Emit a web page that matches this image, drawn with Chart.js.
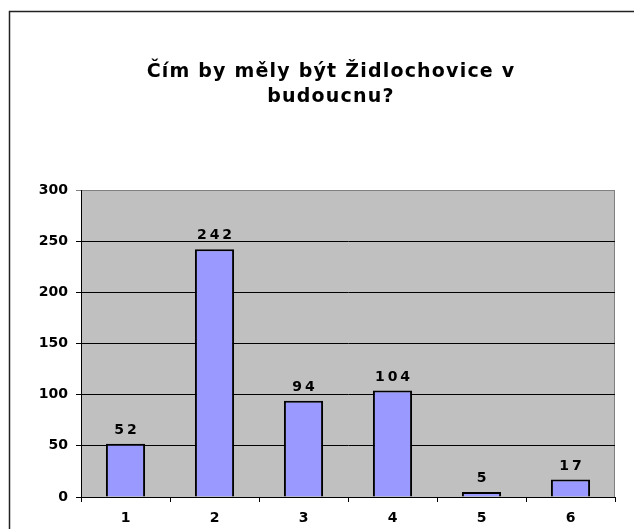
<!DOCTYPE html>
<html>
<head>
<meta charset="utf-8">
<script src="https://cdn.jsdelivr.net/npm/chart.js@4"></script>
<style>
  html, body { margin: 0; padding: 0; background: #fff; }
  #wrap { width: 634px; height: 529px; }
</style>
</head>
<body>
<div id="wrap"><canvas id="graf" width="634" height="529"></canvas></div>
<script>
const kategorie = ["1", "2", "3", "4", "5", "6"];
const hodnoty = [52, 242, 94, 104, 5, 17];
const osaY = [0, 50, 100, 150, 200, 250, 300];
const titulek = ["Čím by měly být Židlochovice v", "budoucnu?"];

const pismo = "'DejaVu Sans', Verdana, sans-serif";

// pozadi, ramecek a sede pole grafu
const pozadi = {
  id: "pozadi",
  beforeDraw(chart) {
    const ctx = chart.ctx;
    const a = chart.chartArea;
    ctx.save();
    ctx.fillStyle = "#fff";
    ctx.fillRect(0, 0, chart.width, chart.height);
    ctx.strokeStyle = "#222";
    ctx.lineWidth = 1.5;
    ctx.strokeRect(9.5, 11.5, 700, 600);
    ctx.fillStyle = "#c0c0c0";
    ctx.fillRect(a.left, a.top, a.right - a.left, a.bottom - a.top);
    ctx.strokeStyle = "#808080";
    ctx.lineWidth = 1;
    ctx.strokeRect(a.left + 0.5, a.top + 0.5, a.right - a.left - 1, a.bottom - a.top);
    // nadpis
    ctx.font = "bold 19px " + pismo;
    ctx.letterSpacing = "1.2px";
    ctx.fillStyle = "#000";
    ctx.textAlign = "center";
    ctx.textBaseline = "alphabetic";
    ctx.fillText(titulek[0], 331, 77);
    ctx.fillText(titulek[1], 331, 102);
    ctx.restore();
  }
};

// popisky hodnot nad sloupci
const popisky = {
  id: "popisky",
  afterDatasetsDraw(chart) {
    const ctx = chart.ctx;
    const meta = chart.getDatasetMeta(0);
    ctx.save();
    ctx.font = "bold 14px " + pismo;
    ctx.fillStyle = "#000";
    ctx.textAlign = "center";
    ctx.textBaseline = "alphabetic";
    ctx.letterSpacing = "3px";
    meta.data.forEach((bar, i) => {
      ctx.fillText(String(hodnoty[i]), bar.x + 1.5, bar.y - 10);
    });
    ctx.restore();
  }
};

new Chart(document.getElementById("graf"), {
  type: "bar",
  data: {
    labels: kategorie,
    datasets: [{
      data: hodnoty,
      backgroundColor: "#9999ff",
      borderColor: "#000",
      borderWidth: 2,
      barPercentage: 0.44,
      categoryPercentage: 1
    }]
  },
  options: {
    responsive: false,
    animation: false,
    layout: { padding: { left: 0, right: 19, top: 190, bottom: 0 } },
    plugins: {
      legend: { display: false },
      tooltip: { enabled: false },
      title: { display: false }
    },
    scales: {
      x: {
        afterFit: (s) => { s.height = 32; },
        grid: { drawOnChartArea: false, drawTicks: true, tickLength: 5, color: "#000", offset: true },
        border: { color: "#000", width: 1 },
        ticks: { color: "#000", padding: 8, font: { family: pismo, size: 14, weight: "bold" } }
      },
      y: {
        min: 0,
        max: 300,
        afterFit: (s) => { s.width = 81; },
        afterBuildTicks: (s) => { s.ticks = osaY.map(v => ({ value: v })); },
        grid: {
          tickLength: 5,
          color: (c) => c.tick && c.tick.value === 300 ? "#808080" : "#000"
        },
        border: { color: "#000", width: 1 },
        ticks: { color: "#000", padding: 8, font: { family: pismo, size: 14, weight: "bold" } }
      }
    }
  },
  plugins: [pozadi, popisky]
});
</script>
</body>
</html>
